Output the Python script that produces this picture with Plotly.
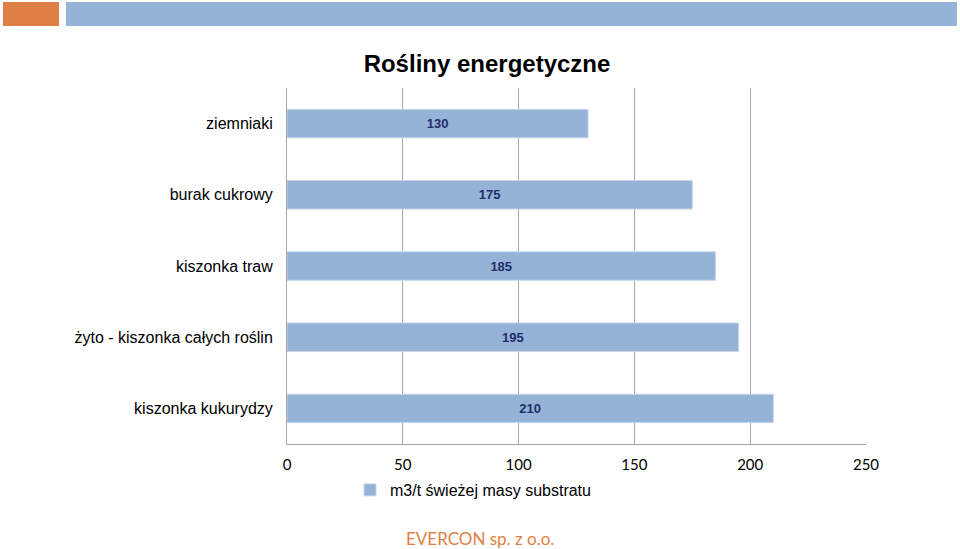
import plotly.graph_objects as go

categories = ["ziemniaki", "burak cukrowy", "kiszonka traw",
              "żyto - kiszonka całych roślin", "kiszonka kukurydzy"]
values = [130, 175, 185, 195, 210]
x_ticks = [0, 50, 100, 150, 200, 250]
series_name = "m3/t świeżej masy substratu"

W, H = 960, 549
L, R, T, B = 287, 866, 88, 444

def px(x):
    return (x - L) / (R - L)

def py(y):
    return (B - y) / (B - T)

fig = go.Figure()
fig.add_trace(go.Bar(
    y=categories, x=values, orientation="h", name=series_name,
    marker=dict(color="#95B3D7", line=dict(color="#C5D6EA", width=1)),
    text=[str(v) for v in values], textposition="inside",
    insidetextanchor="middle",
    textfont=dict(family="Liberation Sans, Arial", size=13, color="#1F2D6B"),
    texttemplate="<b>%{text}</b>",
    showlegend=True,
))

fig.update_layout(
    width=W, height=H,
    margin=dict(l=L, r=W - R, t=T, b=H - B),
    paper_bgcolor="white", plot_bgcolor="white",
    bargap=0.6,
    font=dict(family="Liberation Sans, Arial", size=16, color="black"),
    title=dict(text="<b>Rośliny energetyczne</b>", x=(487) / W, xanchor="center",
               y=1 - 64 / H, yanchor="middle",
               font=dict(size=24, color="black")),
    xaxis=dict(range=[0, 250], tickvals=x_ticks, showgrid=True,
               gridcolor="#A6A6A6", gridwidth=1, zeroline=False,
               showline=True, linecolor="#A6A6A6", linewidth=1,
               ticks="", tickfont=dict(family="Lato", size=15, color="black"),
               ticklabelstandoff=7, mirror=False),
    yaxis=dict(categoryorder="array", categoryarray=categories[::-1],
               showline=True, linecolor="#A6A6A6", linewidth=1,
               ticks="", ticklabelstandoff=10,
               tickfont=dict(size=16, color="black"), showgrid=False),
    legend=dict(orientation="h", x=px(350), xanchor="left",
                y=py(490), yanchor="middle",
                font=dict(size=16, color="black"),
                itemwidth=30),
    shapes=[
        dict(type="rect", xref="paper", yref="paper",
             x0=px(3), x1=px(59), y0=py(26), y1=py(2),
             fillcolor="#E07F45", line=dict(width=0)),
        dict(type="rect", xref="paper", yref="paper",
             x0=px(66), x1=px(957), y0=py(26), y1=py(2),
             fillcolor="#95B3D7", line=dict(width=0)),
    ],
    annotations=[
        dict(text="EVERCON sp. z o.o.", xref="paper", yref="paper",
             x=px(480), y=py(538), xanchor="center", yanchor="middle",
             showarrow=False,
             font=dict(family="Lato", size=17, color="#E07F45")),
    ],
)

fig.write_html("out.html", config={"displayModeBar": False},
               post_script="document.body.style.margin='0';document.body.style.overflow='hidden';")
